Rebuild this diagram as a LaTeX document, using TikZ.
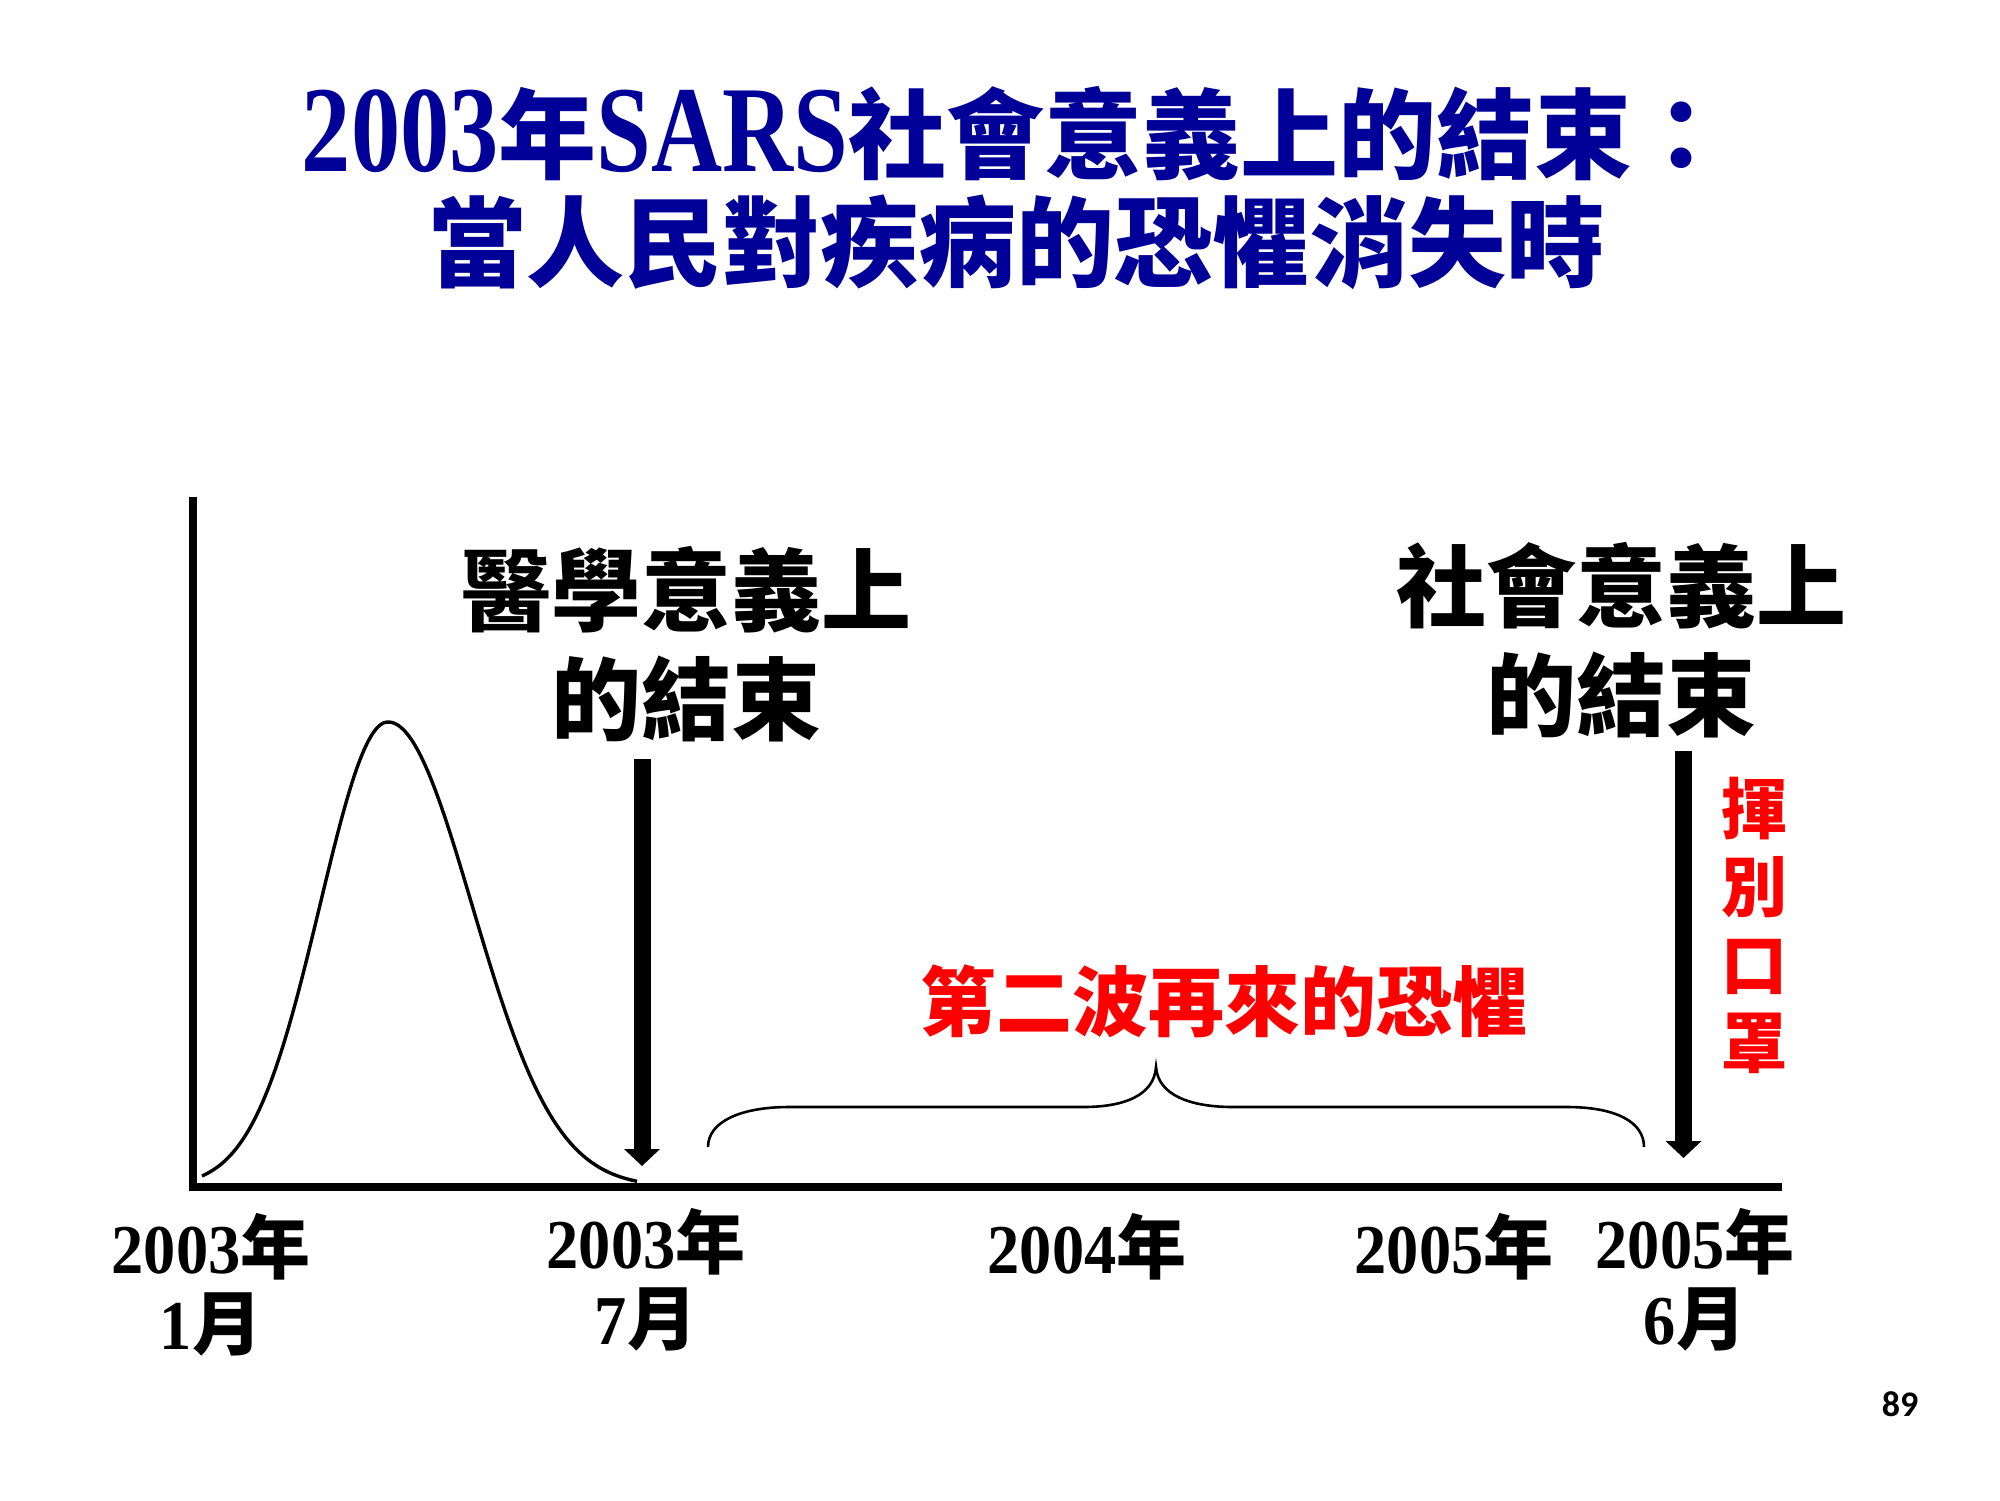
\documentclass[tikz,border=0pt]{standalone}
\usepackage{fontspec}
\setmainfont{Liberation Serif}
\newfontfamily\cjk{Noto Sans CJK TC}
\newfontfamily\titlelatin{Liberation Serif}[FakeStretch=0.8]
\newfontfamily\datelatin{Liberation Serif}[FakeStretch=0.92]
\newfontfamily\pagefont{Carlito}
\usetikzlibrary{arrows.meta}
\definecolor{titleblue}{RGB}{0,0,153}
\definecolor{alertred}{RGB}{255,0,0}
\newcommand{\tlat}[1]{{\titlelatin\bfseries\fontsize{61.5}{54}\selectfont #1}}
\newcommand{\dlat}[1]{{\datelatin\bfseries #1}}
\begin{document}
\begin{tikzpicture}[x=0.5pt,y=-0.5pt,
  titletext/.style={text=titleblue, font=\cjk\bfseries\fontsize{49}{54}\selectfont, align=center, inner sep=0pt},
  endlabel/.style={font=\cjk\bfseries\fontsize{45}{54.5}\selectfont, align=center, inner sep=0pt},
  redlabel/.style={text=alertred, font=\cjk\bfseries\fontsize{38}{46}\selectfont, align=center, inner sep=0pt},
  masklabel/.style={text=alertred, font=\cjk\bfseries\fontsize{33}{39}\selectfont, align=center, inner sep=0pt},
  datelabel/.style={font=\cjk\bfseries\fontsize{35}{38}\selectfont, align=center, inner sep=0pt},
  pagelabel/.style={font=\pagefont\bfseries\fontsize{18}{20}\selectfont, inner sep=0pt},
  axisline/.style={line width=4pt, line join=miter},
  bellcurve/.style={line width=1.7pt, line join=round},
  bigarrow/.style={line width=8.5pt, -{Triangle[width=17.5pt, length=8.5pt]}},
  bracestyle/.style={line width=1.3pt}
]
\fill[white] (0,0) rectangle (2000,1500);
\useasboundingbox (0,0) rectangle (2000,1500);

% title
\node[titletext] (title) at (1016,188) {\tlat{2003}年\tlat{SARS}社會意義上的結束：\\當人民對疾病的恐懼消失時};

% axes
\coordinate (ytop) at (193,497);
\coordinate (origin) at (193,1187);
\coordinate (xend) at (1782,1187);
\draw[axisline] (ytop) -- (origin) -- (xend);

% epidemic curve
\draw[bellcurve] plot[smooth, samples=50, domain=202:388] (\x, {1187-465*exp(-0.5*((\x-388)/68)^2)})
  -- plot[smooth, samples=60, domain=388:637] (\x, {1187-465*exp(-0.5*((\x-388)/84)^2)});

% arrows
\coordinate (a1top) at (642,759);
\coordinate (a1tip) at (642,1166);
\draw[bigarrow] (a1top) -- (a1tip);
\coordinate (a2top) at (1683.5,751);
\coordinate (a2tip) at (1683.5,1158);
\draw[bigarrow] (a2top) -- (a2tip);

% labels above arrows
\node[endlabel] (medend) at (686,644) {醫學意義上\\的結束};
\node[endlabel] (socend) at (1621,640) {社會意義上\\的結束};

% brace
\coordinate (bl) at (708,1147);
\coordinate (bc) at (1156,1067);
\coordinate (br) at (1644,1147);
\draw[bracestyle] (bl) .. controls (708,1122) and (740,1107) .. (789,1107) -- (1083,1107)
  .. controls (1125,1107) and (1154,1095) .. (bc)
  .. controls (1158,1095) and (1190,1107) .. (1233,1107) -- (1567,1107)
  .. controls (1616,1107) and (1644,1122) .. (br);

% red labels
\node[redlabel] (wave) at (1224,1001) {第二波再來的恐懼};
\node[masklabel] (mask) at (1754,925) {揮\\別\\口\\罩};

% dates
\node[datelabel] (d1) at (211,1285) {\dlat{2003}年\\\dlat{1}月};
\node[datelabel] (d2) at (646,1280) {\dlat{2003}年\\\dlat{7}月};
\node[datelabel] (d3) at (1087,1247) {\dlat{2004}年};
\node[datelabel] (d4) at (1454,1247) {\dlat{2005}年};
\node[datelabel] (d5) at (1695,1280) {\dlat{2005}年\\\dlat{6}月};

% page number
\node[pagelabel] (page) at (1900,1404) {89};
\end{tikzpicture}
\end{document}
